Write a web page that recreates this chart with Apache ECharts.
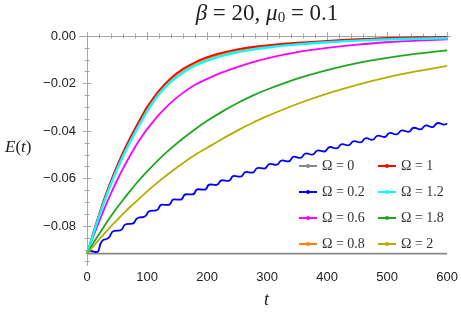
<!DOCTYPE html>
<html>
<head>
<meta charset="utf-8">
<script src="https://cdn.jsdelivr.net/npm/echarts@6/dist/echarts.min.js"></script>
<style>html,body{margin:0;padding:0;background:#fff}#c{width:461px;height:315px}</style>
</head>
<body>
<div id="c"></div>
<script>
// ---- data ----
const xMajor = [0, 100, 200, 300, 400, 500, 600];
const xMinor = [20,40,60,80,120,140,160,180,220,240,260,280,320,340,360,380,420,440,460,480,520,540,560,580];
const yMajor = [0, -0.02, -0.04, -0.06, -0.08];
const yMinor = [-0.005,-0.01,-0.015,-0.025,-0.03,-0.035,-0.045,-0.05,-0.055,-0.065,-0.07,-0.075,-0.085,-0.09,-0.095];

const tGrid    = [0,10,20,30,40,50,60,70,80,90,100,120,140,160,180,200,225,250,275,300,350,400,450,500,550,600];
const eOmega0  = [-0.0916,-0.0916,-0.0916,-0.0916,-0.0916,-0.0916,-0.0916,-0.0916,-0.0916,-0.0916,-0.0916,-0.0916,-0.0916,-0.0916,-0.0916,-0.0916,-0.0916,-0.0916,-0.0916,-0.0916,-0.0916,-0.0916,-0.0916,-0.0916,-0.0916,-0.0916];
const eOmega1  = [-0.0916,-0.0828,-0.0748,-0.0674,-0.0606,-0.0545,-0.0488,-0.0436,-0.0388,-0.0342,-0.0298,-0.0228,-0.0176,-0.0138,-0.0110,-0.0089,-0.0070,-0.0056,-0.0046,-0.0039,-0.0028,-0.0020,-0.0013,-0.0008,-0.0005,-0.0003];
const eOmega08 = [-0.0916,-0.0830,-0.0751,-0.0678,-0.0611,-0.0550,-0.0494,-0.0442,-0.0394,-0.0348,-0.0304,-0.0234,-0.0181,-0.0143,-0.0115,-0.0094,-0.0075,-0.0061,-0.0050,-0.0043,-0.0031,-0.0022,-0.0016,-0.0011,-0.0008,-0.0006];
const eOmega12 = [-0.0916,-0.0834,-0.0757,-0.0686,-0.0620,-0.0560,-0.0504,-0.0453,-0.0405,-0.0360,-0.0316,-0.0244,-0.0191,-0.0153,-0.0124,-0.0103,-0.0083,-0.0068,-0.0057,-0.0048,-0.0035,-0.0026,-0.0019,-0.0014,-0.0011,-0.0009];
const eOmega06 = [-0.0916,-0.0845,-0.0780,-0.0718,-0.0660,-0.0606,-0.0556,-0.0510,-0.0466,-0.0427,-0.0392,-0.0330,-0.0279,-0.0238,-0.0205,-0.0180,-0.0153,-0.0131,-0.0111,-0.0094,-0.0068,-0.0050,-0.0036,-0.0026,-0.0019,-0.0014];
const eOmega18 = [-0.0916,-0.0873,-0.0833,-0.0794,-0.0757,-0.0722,-0.0689,-0.0657,-0.0626,-0.0597,-0.0570,-0.0518,-0.0472,-0.0430,-0.0392,-0.0357,-0.0318,-0.0283,-0.0252,-0.0225,-0.0179,-0.0143,-0.0114,-0.0092,-0.0074,-0.0060];
const eOmega2  = [-0.0916,-0.0886,-0.0856,-0.0828,-0.0800,-0.0774,-0.0748,-0.0723,-0.0700,-0.0677,-0.0654,-0.0611,-0.0571,-0.0534,-0.0500,-0.0470,-0.0433,-0.0398,-0.0366,-0.0337,-0.0286,-0.0242,-0.0205,-0.0174,-0.0148,-0.0125];

// Omega = 0.2 : oscillating curve, sampled at its peaks and troughs
const tBlue = [0,5,15,25,35,45,55,65,75,85,95,105,115,125,135,145,155,165,175,185,195,205,215,225,235,245,255,265,275,285,295,305,315,325,335,345,355,365,375,385,395,405,415,425,435,445,455,465,475,485,495,505,515,525,535,545,555,565,575,585,595,600];
const eBlue = [-0.0916,-0.0905,-0.0910,-0.0862,-0.0851,-0.0820,-0.0818,-0.0792,-0.0790,-0.0765,-0.0761,-0.0736,-0.0734,-0.0710,-0.0711,-0.0688,-0.0689,-0.0666,-0.0667,-0.0645,-0.0647,-0.0625,-0.0627,-0.0607,-0.0610,-0.0589,-0.0592,-0.0572,-0.0575,-0.0555,-0.0558,-0.0538,-0.0542,-0.0523,-0.0528,-0.0508,-0.0513,-0.0494,-0.0499,-0.0481,-0.0486,-0.0467,-0.0473,-0.0455,-0.0460,-0.0442,-0.0448,-0.0430,-0.0437,-0.0419,-0.0425,-0.0408,-0.0414,-0.0397,-0.0403,-0.0386,-0.0393,-0.0376,-0.0383,-0.0366,-0.0373,-0.0368];

const names = ['Ω = 0','Ω = 0.2','Ω = 0.6','Ω = 0.8','Ω = 1','Ω = 1.2','Ω = 1.8','Ω = 2'];
const colors = ['#888888','#0000ff','#ff00ff','#ff8000','#ff0000','#00ffff','#1fa51f','#b0b000'];

// ---- chart ----
const zip = (xs, ys) => xs.map((x, i) => [x, ys[i]]);
const seriesData = [
  zip(tGrid, eOmega0), zip(tBlue, eBlue), zip(tGrid, eOmega06), zip(tGrid, eOmega08),
  zip(tGrid, eOmega1), zip(tGrid, eOmega12), zip(tGrid, eOmega18), zip(tGrid, eOmega2)
];
const frame = '#a6a6a6';
const serif = 'Liberation Serif';
const sans = 'Liberation Sans';
const xMin = -12, xMax = 605, yMin = -0.0964, yMax = 0.0013;

function xa(pos, ticks, len, labels) {
  return {
    type: 'value', min: xMin, max: xMax, position: pos,
    axisLine: { show: true, lineStyle: { color: frame, width: 1 } },
    axisTick: { show: true, inside: true, length: len, customValues: ticks, lineStyle: { color: frame } },
    axisLabel: labels ? { show: true, customValues: ticks, color: '#222', fontFamily: sans, fontSize: 13, margin: 6 } : { show: false },
    splitLine: { show: false }
  };
}
function ya(pos, ticks, len, labels) {
  return {
    type: 'value', min: yMin, max: yMax, position: pos,
    axisLine: { show: true, lineStyle: { color: frame, width: 1 } },
    axisTick: { show: true, inside: true, length: len, customValues: ticks, lineStyle: { color: frame } },
    axisLabel: labels ? { show: true, customValues: ticks, color: '#222', fontFamily: sans, fontSize: 13, margin: 4,
      formatter: v => (Math.abs(v) < 1e-9 ? '0.00' : '\u2212' + Math.abs(v).toFixed(2)) } : { show: false },
    splitLine: { show: false }
  };
}

const series = seriesData.map((d, i) => ({
  name: names[i], type: 'line', data: d, xAxisIndex: 0, yAxisIndex: 0,
  smooth: i === 1 ? 0.6 : 0.3,
  showSymbol: false, symbol: 'circle', symbolSize: 5,
  lineStyle: { color: colors[i], width: i === 5 ? 2.4 : 1.8 },
  itemStyle: { color: colors[i] }, animation: false, z: 2 + i
}));

const legendBase = {
  orient: 'vertical', top: 159, padding: 0, itemWidth: 18, itemHeight: 5, itemGap: 12,
  textStyle: { fontFamily: serif, fontSize: 14, color: '#333' }, selectedMode: false
};

const chart = echarts.init(document.getElementById('c'), null, { renderer: 'canvas' });
chart.setOption({
  animation: false,
  grid: { left: 80, right: 5, top: 33, bottom: 50, containLabel: false },
  xAxis: [xa('bottom', xMajor, 4, true), xa('bottom', xMinor, 2.5, false), xa('top', xMajor, 4, false), xa('top', xMinor, 2.5, false)],
  yAxis: [ya('left', yMajor, 4, true), ya('left', yMinor, 2.5, false), ya('right', yMajor, 4, false), ya('right', yMinor, 2.5, false)],
  legend: [
    Object.assign({}, legendBase, { left: 298, data: names.slice(0, 4) }),
    Object.assign({}, legendBase, { left: 377, data: names.slice(4) })
  ],
  graphic: [
    { type: 'text', x: 267, y: 2, style: {
        text: '{i|β} = 20, {i|μ}{s|0} = 0.1', align: 'center', fontFamily: serif, fontSize: 23, fill: '#222',
        rich: { i: { fontFamily: serif, fontStyle: 'italic', fontSize: 23, fill: '#222' },
                s: { fontFamily: serif, fontSize: 15, fill: '#222', verticalAlign: 'bottom', padding: [9, 0, 0, 0] } } } },
    { type: 'text', x: 5, y: 139, style: {
        text: '{i|E}({i|t})', fontFamily: serif, fontSize: 17, fill: '#222',
        rich: { i: { fontFamily: serif, fontStyle: 'italic', fontSize: 17, fill: '#222' } } } },
    { type: 'text', x: 264, y: 291, style: { text: 't', fontFamily: serif, fontStyle: 'italic', fontSize: 18, fill: '#222' } }
  ],
  series: series
});
</script>
</body>
</html>
